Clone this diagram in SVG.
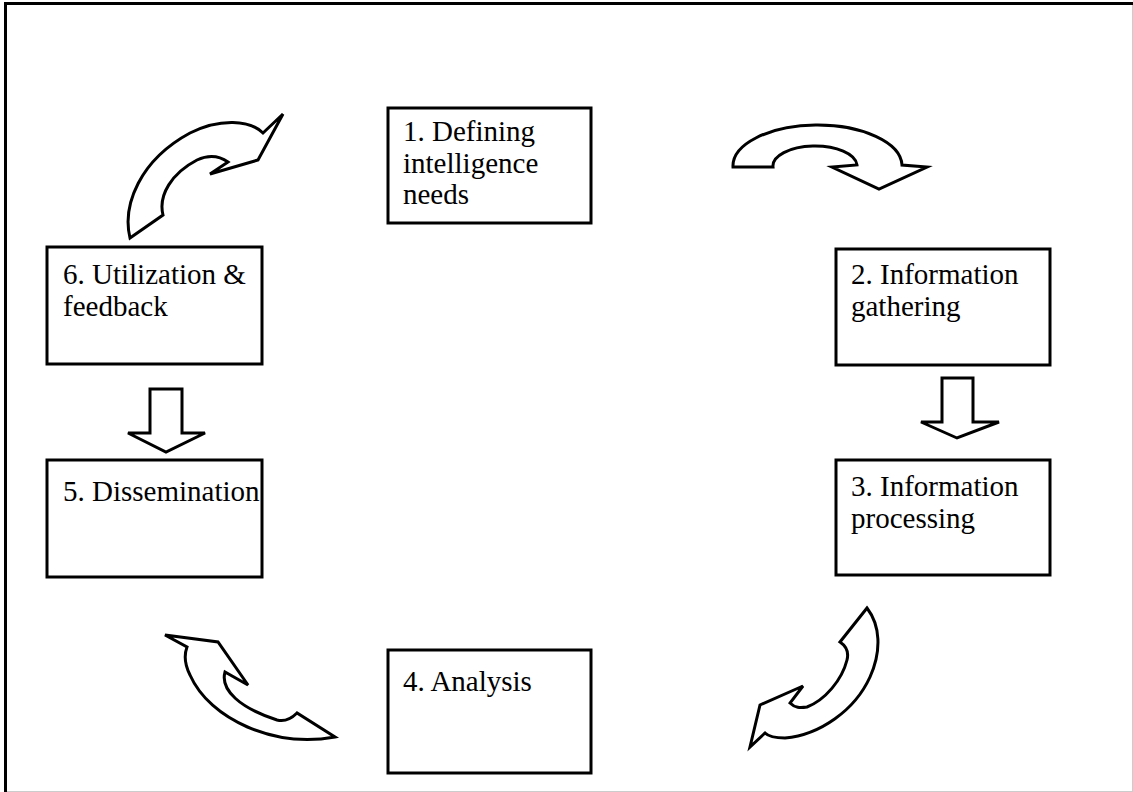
<svg xmlns="http://www.w3.org/2000/svg" width="1133" height="792" viewBox="0 0 1133 792">
<style>
.box{fill:#fff;stroke:#000;stroke-width:3}
.arr{fill:#fff;stroke:#000;stroke-width:3;stroke-linejoin:miter}
text{font-family:"Liberation Serif","Times New Roman",serif;font-size:29px;fill:#000}
</style>
<rect width="1133" height="792" fill="#fff"/>
<g id="frame">
<line x1="4" y1="3.5" x2="1133" y2="3.5" stroke="#000" stroke-width="3"/>
<line x1="5.5" y1="2" x2="5.5" y2="792" stroke="#000" stroke-width="3"/>
<line x1="1132.5" y1="5" x2="1132.5" y2="792" stroke="#ccc" stroke-width="1"/>
<line x1="7" y1="791.5" x2="1133" y2="791.5" stroke="#ccc" stroke-width="1"/>
</g>
<g id="connectors">
<path class="arr" d="M130,238 C122,205 140,160 190,133 C220,118 250,120 263,133 L283,114 L258,160 L210,174 L228,162 C218,155 208,155 197,160 C172,173 158,195 163,215 Z"/>
<path class="arr" d="M733,167 A84.5,41 0 0 1 902,165 L927,167 L879,189 L832,167 L857,165 A42,20 0 0 0 773,167 Z"/>
<path class="arr" d="M942,378 L973,378 L973,422 L999,422 L957,438 L921,422 L942,422 Z"/>
<path class="arr" d="M150,389 L182,389 L182,433 L205,433 L166,452 L128,433 L150,433 Z"/>
<path class="arr" d="M867,608 C880,625 882,650 870,677 C855,710 820,735 785,738 C775,738 768,736 765,733 L750,747 L760,705 L803,686 L790,703 C795,708 800,708 807,707 C825,700 842,680 847,660 C849,652 846,646 840,642 Z"/>
<path class="arr" d="M165,635 L218,642 L248,685 L225,672 C220,690 240,708 277,720 C285,722 292,718 297,713 L335,737 C275,748 210,720 190,675 C185,665 184,655 187,647 Z"/>
</g>
<g id="node1"><rect class="box" x="388" y="108" width="203" height="115"/>
<text x="403" y="141">1. Defining</text><text x="403" y="173">intelligence</text><text x="403" y="204">needs</text></g>
<g id="node2"><rect class="box" x="836" y="249" width="214" height="116"/>
<text x="851" y="284">2. Information</text><text x="851" y="316">gathering</text></g>
<g id="node3"><rect class="box" x="836" y="460" width="214" height="115"/>
<text x="851" y="496">3. Information</text><text x="851" y="528">processing</text></g>
<g id="node4"><rect class="box" x="388" y="650" width="203" height="123"/>
<text x="403" y="691">4. Analysis</text></g>
<g id="node5"><rect class="box" x="47" y="460" width="215" height="117"/>
<text x="63" y="501">5. Dissemination</text></g>
<g id="node6"><rect class="box" x="47" y="247" width="215" height="117"/>
<text x="63" y="284">6. Utilization &amp;</text><text x="63" y="316">feedback</text></g>
</svg>
